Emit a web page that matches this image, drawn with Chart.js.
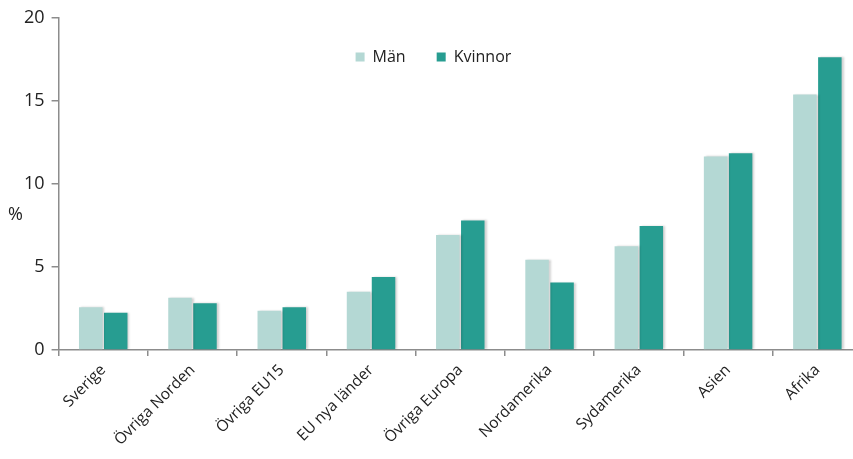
<!DOCTYPE html>
<html>
<head>
<meta charset="utf-8">
<script src="https://cdn.jsdelivr.net/npm/chart.js@4"></script>
<style>
  html, body { margin: 0; padding: 0; background: #fff; overflow: hidden; }
  #wrap { width: 853px; height: 459px; overflow: hidden; }
</style>
</head>
<body>
<div id="wrap"><canvas id="chart" width="862" height="459"></canvas></div>
<script>
const categories = ["Sverige", "Övriga Norden", "Övriga EU15", "EU nya länder", "Övriga Europa",
  "Nordamerika", "Sydamerika", "Asien", "Afrika"];
const manValues = [2.58, 3.14, 2.36, 3.5, 6.92, 5.43, 6.24, 11.65, 15.38];
const kvinnorValues = [2.25, 2.82, 2.58, 4.39, 7.8, 4.06, 7.46, 11.85, 17.63];
const seriesLabels = ["Män", "Kvinnor"];
const yTicks = [0, 5, 10, 15, 20];

const FONT = "'Open Sans', sans-serif";
const TEXT = "#222";
const AXIS = "#8c8c8c";
const colors = ["#b4d8d4", "#279d91"];

// bars get a light drop shadow like the original
const shadowPlugin = {
  id: "barShadow",
  beforeDatasetsDraw(chart) {
    const ctx = chart.ctx;
    ctx.save();
    ctx.shadowColor = "rgba(0,0,0,0.18)";
    ctx.shadowOffsetX = 2;
    ctx.shadowOffsetY = 0;
    ctx.shadowBlur = 2;
  },
  afterDatasetsDraw(chart) {
    chart.ctx.restore();
  }
};

// legend sits inside the plot area, and the "%" label is horizontal
const overlayPlugin = {
  id: "overlay",
  afterDraw(chart) {
    const ctx = chart.ctx;
    const area = chart.chartArea;
    ctx.save();
    ctx.fillStyle = TEXT;
    ctx.textBaseline = "middle";
    ctx.textAlign = "left";
    ctx.font = "18px " + FONT;
    ctx.fillText("%", 8, 215);

    ctx.font = "16px " + FONT;
    let x = area.left + 297;
    const y = 57;
    seriesLabels.forEach((label, i) => {
      ctx.fillStyle = colors[i];
      ctx.fillRect(x, y - 4.5, 9, 9);
      ctx.fillStyle = TEXT;
      ctx.fillText(label, x + 17, y);
      x += 17 + ctx.measureText(label).width + 31;
    });
    ctx.restore();
  }
};

new Chart(document.getElementById("chart"), {
  type: "bar",
  data: {
    labels: categories,
    datasets: [
      { label: seriesLabels[0], data: manValues, backgroundColor: colors[0] },
      { label: seriesLabels[1], data: kvinnorValues, backgroundColor: colors[1] }
    ]
  },
  options: {
    responsive: false,
    animation: false,
    categoryPercentage: 0.56,
    barPercentage: 0.94,
    layout: { padding: { left: 17, top: 16, right: 0, bottom: 0 } },
    plugins: {
      legend: { display: false },
      tooltip: { enabled: false }
    },
    scales: {
      x: {
        grid: { drawOnChartArea: false, drawTicks: true, tickLength: 6, color: AXIS, lineWidth: 1.5 },
        border: { color: AXIS, width: 1.5 },
        ticks: {
          color: TEXT,
          font: { family: FONT, size: 15.5 },
          minRotation: 45,
          maxRotation: 45,
          padding: 5
        },
        afterFit(scale) { scale.height = 109; }
      },
      y: {
        min: 0,
        max: 20,
        afterBuildTicks(scale) { scale.ticks = yTicks.map((v) => ({ value: v })); },
        grid: { drawOnChartArea: false, drawTicks: true, tickLength: 7, color: AXIS, lineWidth: 1.5 },
        border: { color: AXIS, width: 1.5 },
        ticks: { color: TEXT, font: { family: FONT, size: 18 }, padding: 7 }
      }
    }
  },
  plugins: [shadowPlugin, overlayPlugin]
});
</script>
</body>
</html>
